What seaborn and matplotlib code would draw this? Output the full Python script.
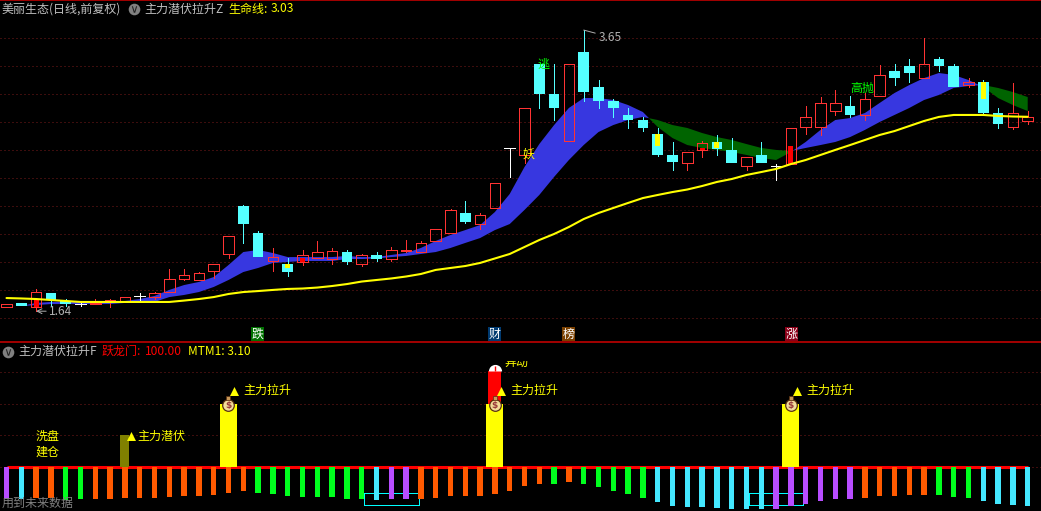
import numpy as np
import pandas as pd
import seaborn as sns
import matplotlib.pyplot as plt
from matplotlib.transforms import Bbox

sns.set_theme(style="dark", rc={"figure.facecolor": "black", "axes.facecolor": "black"})
plt.rcParams["font.family"] = ["Noto Sans CJK SC", "DejaVu Sans"]

# daily prices
opens = [1.67,1.70,1.67,1.77,1.71,1.69,1.69,1.71,1.71,1.75,1.74,1.78,1.87,1.86,1.93,2.05,2.39,2.20,2.00,1.98,
         1.99,2.02,2.01,2.06,1.98,2.04,2.01,2.07,2.06,2.14,2.20,2.34,2.26,2.38,2.81,2.76,3.41,3.19,2.86,3.49,
         3.24,3.14,3.04,3.01,2.91,2.76,2.70,2.79,2.85,2.79,2.68,2.76,2.68,2.69,2.96,2.96,3.07,3.11,3.04,3.18,
         3.36,3.39,3.31,3.44,3.39,3.26,3.28,3.06,2.96,3.00]
closes = [1.69,1.68,1.78,1.72,1.69,1.69,1.70,1.72,1.74,1.75,1.77,1.87,1.90,1.91,1.98,2.18,2.26,2.03,2.03,1.92,
          2.04,2.06,2.07,1.99,2.04,2.01,2.08,2.08,2.13,2.23,2.36,2.28,2.33,2.56,2.81,3.09,3.19,3.09,3.41,3.21,
          3.14,3.09,3.01,2.95,2.76,2.71,2.78,2.84,2.80,2.70,2.74,2.70,2.68,2.95,3.03,3.13,3.13,3.04,3.16,3.33,
          3.31,3.34,3.41,3.39,3.24,3.28,3.06,2.98,3.06,3.03]
highs = [1.69,1.70,1.80,1.77,1.73,1.71,1.73,1.73,1.74,1.77,1.78,1.94,1.94,1.92,1.98,2.18,2.40,2.21,2.09,2.02,
         2.08,2.14,2.09,2.08,2.05,2.06,2.10,2.15,2.14,2.23,2.37,2.43,2.34,2.56,2.81,3.09,3.41,3.41,3.41,3.65,
         3.29,3.16,3.09,3.03,2.95,2.85,2.78,2.86,2.90,2.88,2.74,2.85,2.69,2.95,3.11,3.17,3.22,3.18,3.20,3.40,
         3.41,3.44,3.59,3.46,3.41,3.31,3.29,3.09,3.27,3.07]
lows = [1.67,1.68,1.64,1.68,1.68,1.68,1.69,1.67,1.71,1.72,1.73,1.78,1.86,1.86,1.88,2.02,2.13,2.03,1.93,1.89,
        1.97,2.02,1.98,1.98,1.96,2.00,2.00,2.06,2.06,2.14,2.20,2.27,2.23,2.38,2.60,2.70,3.09,3.01,2.86,3.14,
        3.09,3.03,2.95,2.93,2.75,2.65,2.65,2.74,2.76,2.70,2.65,2.70,2.58,2.69,2.91,2.90,3.04,3.03,3.01,3.18,
        3.26,3.28,3.31,3.36,3.24,3.24,3.05,2.95,2.94,2.98]

# 生命线
life_line = [1.734,1.731,1.727,1.720,1.713,1.706,1.706,1.706,1.706,1.706,1.706,1.706,1.716,1.727,1.741,1.763,
             1.777,1.784,1.792,1.799,1.802,1.809,1.820,1.834,1.852,1.863,1.874,1.888,1.906,1.935,1.949,1.963,
             1.985,2.017,2.049,2.099,2.149,2.192,2.242,2.299,2.342,2.378,2.414,2.449,2.471,2.492,2.510,2.535,
             2.564,2.585,2.614,2.635,2.657,2.692,2.721,2.757,2.793,2.828,2.864,2.900,2.928,2.964,3.000,3.029,
             3.043,3.043,3.043,3.036,3.032,3.030]

# the two averages of the blue / green band
band_fast = [np.nan,1.677,1.699,1.706,1.706,1.706,1.706,1.706,1.713,1.727,1.749,1.792,1.827,1.849,1.884,1.970,
             2.063,2.078,2.056,2.027,2.027,2.027,2.027,2.035,2.027,2.027,2.042,2.056,2.092,2.142,2.185,2.220,
             2.256,2.349,2.478,2.671,2.835,2.971,3.093,3.164,3.164,3.150,3.114,3.064,2.957,2.878,2.828,2.807,
             2.793,2.778,2.757,2.735,2.721,2.778,2.850,2.936,3.007,3.021,3.057,3.129,3.200,3.257,3.307,3.343,
             3.329,3.293,3.243,3.164,3.114,3.071]
band_slow = [np.nan,1.677,1.684,1.691,1.691,1.691,1.691,1.691,1.699,1.699,1.706,1.741,1.756,1.777,1.813,1.863,
             1.920,1.949,1.985,1.992,1.999,1.999,1.999,2.013,2.013,2.017,2.027,2.035,2.049,2.063,2.092,2.128,
             2.163,2.220,2.263,2.364,2.471,2.600,2.721,2.828,2.921,2.971,3.007,3.029,3.007,2.971,2.950,2.914,
             2.885,2.864,2.835,2.807,2.793,2.785,2.807,2.828,2.850,2.885,2.936,2.993,3.043,3.093,3.150,3.186,
             3.236,3.250,3.257,3.236,3.207,3.171]

# small filled stick inside some candles
inner_days = [2,19,20,44,47,48,53,66]
inner_low = [1.67,1.95,1.99,2.82,2.79,2.81,2.69,3.16]
inner_high = [1.72,1.98,2.02,2.91,2.81,2.85,2.82,3.28]
inner_colors = ["#ff0000","#ffff00","#ff0000","#ffff00","#ff0000","#ffff00","#ff0000","#ffff00"]

price_grid = [3.59,3.39,3.19,2.99,2.79,2.59,2.39,2.19,1.99,1.79,1.59]

# lower panel histogram
hist_values = [-51.9,-51.9,-50.3,-50.3,-52.4,-51.9,-51.9,-51.9,-50.3,-50.3,-50.3,-48.7,-47.1,-47.1,-45.5,-42.3,
               -39.2,-42.3,-43.9,-47.1,-48.7,-48.7,-48.7,-51.9,-51.9,-53.4,-51.9,-51.9,-51.9,-50.3,-47.1,-47.1,
               -47.1,-43.9,-39.2,-31.2,-28.0,-28.0,-24.9,-28.0,-32.8,-39.2,-43.9,-50.3,-56.6,-63.0,-64.6,-64.6,
               -66.1,-67.7,-67.7,-67.7,-67.7,-63.0,-59.8,-55.0,-51.9,-51.9,-50.3,-47.1,-47.1,-45.5,-45.5,-45.5,
               -48.7,-50.3,-55.0,-59.8,-61.4,-63.0]
hist_kinds = ["p","c","o","o","g","g","o","o","o","o","o","o","o","o","o","o","o","g","g","g","g","g","g","g",
              "g","c","p","p","o","o","o","o","o","o","o","o","o","g","o","g","g","g","g","g","c","c","c","c",
              "c","c","c","c","p","p","p","p","p","p","o","o","o","o","o","g","g","g","c","c","c","c"]
kind_colors = {"p": "#b84dff", "c": "#44e8ff", "o": "#ff5a00", "g": "#00ff1e"}

signal_days = [8,15,33,53]
signal_values = [50,100,100,100]
signal_widths = [0.6,1.15,1.15,1.15]
signal_colors = ["#808000","#ffff00","#ffff00","#ffff00"]
jump_day = 33
jump_top = 152
signal_grid = [150,100,50,0]

# cyan boxes under the histogram
box_start = [24.15,50.15]
box_end = [27.85,53.85]
box_top = -41.8
box_bottom = -61.4

up_red = "#ff3333"
down_cyan = "#54ffff"
days = np.arange(len(opens))
W, H = 1041, 511
grid_color = "#7a1a1a"
grid_style = (0, (1, 3))
thin = 0.6

fig = plt.figure(figsize=(W / 100, H / 100), dpi=100, facecolor="black")
ax1 = fig.add_axes([0, (H - 342) / H, 1, 342 / H])
ax2 = fig.add_axes([0, 0, 1, (H - 343) / H])

# upper panel
fast = np.array(band_fast)
slow = np.array(band_slow)
ax1.fill_between(days, fast, slow, where=fast >= slow, interpolate=True, color="#3737e0", lw=0, zorder=1)
ax1.fill_between(days, fast, slow, where=fast <= slow, interpolate=True, color="#006400", lw=0, zorder=1)

body_w = 0.72
for d, o, c, h, l in zip(days, opens, closes, highs, lows):
    top, bot = max(o, c), min(o, c)
    col = up_red if c > o else (down_cyan if c < o else "white")
    ax1.vlines(d, top, h, color=col, lw=thin, zorder=2, antialiased=False)
    ax1.vlines(d, l, bot, color=col, lw=thin, zorder=2, antialiased=False)
    if c > o:
        ax1.bar(d, top - bot, bottom=bot, width=body_w, facecolor="none", edgecolor=col, lw=thin,
                zorder=2, antialiased=False)
    elif c < o:
        ax1.bar(d, top - bot, bottom=bot, width=body_w, color=col, lw=0, zorder=2)
    else:
        ax1.hlines(c, d - body_w / 2, d + body_w / 2, color=col, lw=thin, zorder=2, antialiased=False)
ax1.bar(inner_days, np.array(inner_high) - np.array(inner_low), bottom=inner_low, width=0.34,
        color=inner_colors, lw=0, zorder=2.5)
sns.lineplot(x=days, y=life_line, color="#ffff00", lw=1.5, ax=ax1, zorder=3, estimator=None)

ax1.annotate("3.65", xy=(39, 3.65), xytext=(40.0, 3.60), color="#b0b0b0", fontsize=8.6, va="center",
             arrowprops=dict(arrowstyle="-", color="#b0b0b0", lw=0.7, shrinkA=0, shrinkB=0), zorder=4)
ax1.annotate("1.64", xy=(2, 1.64), xytext=(2.9, 1.64), color="#b0b0b0", fontsize=8.6, va="center",
             arrowprops=dict(arrowstyle="->", color="#b0b0b0", lw=0.7, shrinkA=0, shrinkB=0), zorder=4)

ax1.set_xlim(-6.5 / 14.8, (W - 6.5) / 14.8)
ax1.set_ylim(3.865 - 342 * 0.00715, 3.865)
ax1.set_yticks(price_grid)
ax1.set_xticks([])
ax1.set_ylabel("")
ax1.tick_params(length=0, labelleft=False)
ax1.grid(axis="y", color=grid_color, ls=grid_style, lw=0.72)
ax1.set_axisbelow(True)
for name, sp in ax1.spines.items():
    sp.set_visible(name in ("top", "bottom"))
    sp.set_color("#c00000")
    sp.set_linewidth(1.2)

# lower panel
ax2.hlines(0, days[0], days[-1], color="#ff0000", lw=2.2, zorder=2)
hist = pd.DataFrame({"day": days, "value": hist_values, "kind": hist_kinds})
sns.barplot(hist, x="day", y="value", hue="kind", palette=kind_colors, native_scale=True, dodge=False,
            width=0.36, gap=0, saturation=1, legend=False, errorbar=None, ax=ax2, zorder=3,
            linewidth=0, edgecolor="none")
ax2.bar(jump_day, jump_top - 100, bottom=100, width=0.88, color="#ff0000", lw=0, zorder=3)
ax2.bar(signal_days, np.array(signal_values) + 1.5, bottom=-1.5, width=signal_widths, color=signal_colors,
        lw=0, zorder=4)

for x, y in zip(signal_days, signal_values):
    ax2.scatter(x + 0.39, 48 if y == 50 else 120, marker="^", s=42, color="#ffff00", lw=0, zorder=6)
    if y == 100:
        ax2.scatter(x - 0.02, 98, marker="o", s=70, color="#f2dc9a", edgecolor="#5a3010", lw=0.9, zorder=6)
        ax2.scatter(x - 0.02, 108, marker="s", s=10, color="#c89858", edgecolor="#5a3010", lw=0.5, zorder=6)
        ax2.text(x - 0.02, 97, "$", color="#9a3a3a", fontsize=6.5, fontweight="bold", family="DejaVu Sans",
                 ha="center", va="center", zorder=7)
ax2.plot(jump_day, jump_top, marker="o", ms=9.5, fillstyle="top", mfc="white", mec="white",
         markerfacecoloralt="none", mew=0, zorder=5)
ax2.vlines(jump_day, jump_top, jump_top + 7, color="#ff0000", lw=1, zorder=6)

for s, e in zip(box_start, box_end):
    ax2.plot([s, e, e, s, s], [box_top, box_top, box_bottom, box_bottom, box_top], color="#00ffff", lw=thin,
             zorder=2.5, antialiased=False)

ax2.set_xlim(-6.5 / 14.8, (W - 6.5) / 14.8)
ax2.set_ylim((466.5 - 511) / 0.63, (466.5 - 343) / 0.63)
ax2.set_yticks(signal_grid)
ax2.set_xticks([])
ax2.set_xlabel("")
ax2.set_ylabel("")
ax2.tick_params(length=0, labelleft=False)
ax2.grid(axis="y", color=grid_color, ls=grid_style, lw=0.72)
ax2.set_axisbelow(True)
for sp in ax2.spines.values():
    sp.set_visible(False)

# grey round buttons in the headers
ax1.scatter(8.61, 3.80, s=70, color="#808080", lw=0, zorder=5)
ax1.scatter(8.61, 3.80, s=22, marker="$\\vee$", color="#202020", lw=0, zorder=6)
ax2.scatter(0.1, 182.5, s=70, color="#808080", lw=0, zorder=5)
ax2.scatter(0.1, 182.5, s=22, marker="$\\vee$", color="#202020", lw=0, zorder=6)


def label(x, y, s, color="#c0c0c0", size=8.64, ha="left", **kw):
    return fig.text(x / W, 1 - y / H, s, color=color, fontsize=size, ha=ha, va="center", zorder=10, **kw)


grey = "#c0c0c0"
label(2, 9, "美丽生态(日线,前复权)", grey)
label(144, 9, "主力潜伏拉升Z", grey)
label(228, 9, "生命线:", "#ffff00")
label(271, 9, "3.03", "#ffff00")
label(18, 351, "主力潜伏拉升F", grey)
label(102, 351, "跃龙门:", "#ff0000")
label(145, 351, "100.00", "#ff0000")
label(188, 351, "MTM1: 3.10", "#ffff00")
label(2, 503, "用到未来数据", "#808080")

label(36, 436, "洗盘", "#ffff00")
label(36, 452, "建仓", "#ffff00")
label(137, 436, "主力潜伏", "#ffff00")
for x in [243, 510, 806]:
    label(x, 390, "主力拉升", "#ffff00")
clipped = label(504, 362, "异动", "#ffff00")
clipped.set_clip_box(Bbox([[500, H - 368], [530, H - 361]]))
clipped.set_clip_on(True)

label(543, 64, "逃", "#00ff00", ha="center")
label(529, 154, "妖", "#ffff00", ha="center")
label(850, 88, "高抛", "#00ff00")

for x, s, bg in [(257.5, "跌", "#007000"), (494.5, "财", "#003a70"), (568.5, "榜", "#7a4000"), (791.5, "涨", "#8a0018")]:
    label(x, 334, s, "white", ha="center", bbox=dict(boxstyle="square,pad=0.05", facecolor=bg, edgecolor="none"))

fig.savefig("out.png", dpi=100, facecolor="black")
